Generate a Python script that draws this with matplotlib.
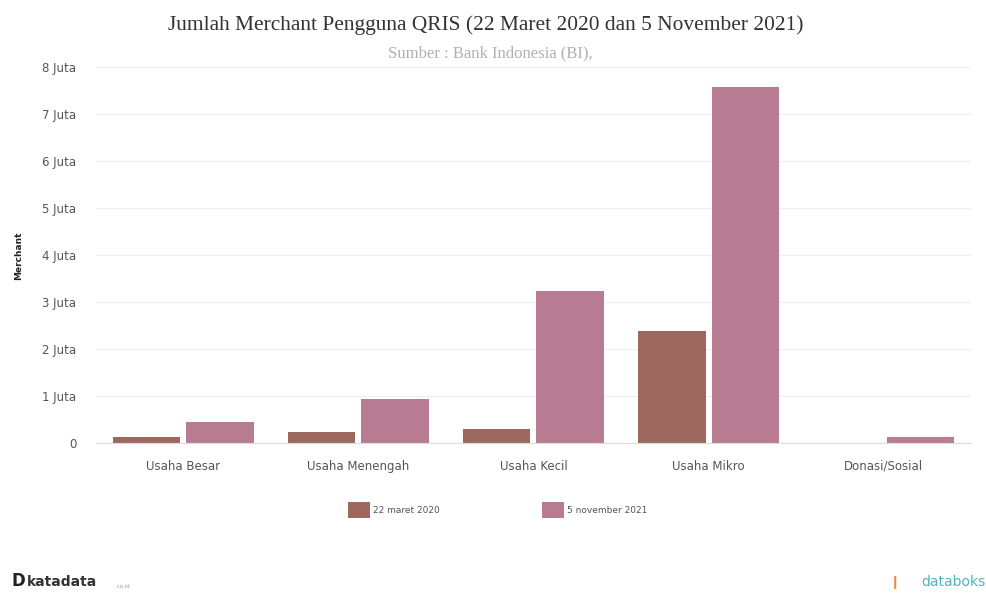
import matplotlib.pyplot as plt
import numpy as np

# Data (juta merchant)
kategori = ["Usaha Besar", "Usaha Menengah", "Usaha Kecil", "Usaha Mikro", "Donasi/Sosial"]
maret_2020 = [0.13, 0.23, 0.30, 2.38, 0.0]
november_2021 = [0.45, 0.94, 3.23, 7.58, 0.13]
label_seri = ["22 maret 2020", "5 november 2021"]
yticks = [0, 1, 2, 3, 4, 5, 6, 7, 8]
ytick_label = ["0"] + [f"{v} Juta" for v in yticks[1:]]

warna_2020 = "#9d695f"
warna_2021 = "#b77b92"

fig = plt.figure(figsize=(9.86, 5.95), dpi=100)
ax = fig.add_axes([0.097, 0.255, 0.888, 0.632])

x = np.arange(len(kategori))
lebar = 0.385
ax.bar(x - lebar / 2 - 0.017, maret_2020, lebar, color=warna_2020, label=label_seri[0])
ax.bar(x + lebar / 2 + 0.017, november_2021, lebar, color=warna_2021, label=label_seri[1])

ax.set_xlim(-0.5, len(kategori) - 0.5)
ax.set_ylim(0, 8)
ax.set_yticks(yticks)
ax.set_yticklabels(ytick_label)
ax.set_xticks(x)
ax.set_xticklabels(kategori)
ax.tick_params(axis="both", length=0, labelsize=8.5, colors="#555555")
ax.tick_params(axis="x", pad=12)
ax.tick_params(axis="y", pad=14)

ax.grid(axis="y", color="#eeeeee", linewidth=0.8)
ax.set_axisbelow(True)
for s in ["top", "right", "left"]:
    ax.spines[s].set_visible(False)
ax.spines["bottom"].set_color("#dddddd")

ax.set_ylabel("Merchant", fontsize=6.5, fontweight="bold", color="#222222", labelpad=14)

# Judul
fig.text(0.493, 0.958, "Jumlah Merchant Pengguna QRIS (22 Maret 2020 dan 5 November 2021)",
         ha="center", va="center", family="Liberation Serif", fontsize=15.4, color="#333333")
fig.text(0.497, 0.911, "Sumber : Bank Indonesia (BI),", ha="center", va="center",
         family="Liberation Serif", fontsize=12, color="#b0b0b0")

# Legenda
leg = ax.legend(loc="upper center", bbox_to_anchor=(0.459, -0.135), ncol=2, frameon=False,
                fontsize=6.5, handlelength=2.4, handleheight=2.4, columnspacing=11.4,
                handletextpad=0.3)
for t in leg.get_texts():
    t.set_color("#555555")

# Logo teks
fig.text(0.012, 0.008, "D", ha="left", va="bottom", fontsize=12, fontweight="bold", color="#222222")
fig.text(0.027, 0.01, "katadata", ha="left", va="bottom", fontsize=10, fontweight="bold", color="#333333")
fig.text(0.117, 0.01, ".co.id", ha="left", va="bottom", fontsize=4, color="#999999")
fig.text(0.902, 0.01, "\u2759", ha="left", va="bottom", fontsize=9, color="#f08a3c")
fig.text(0.999, 0.01, "databoks", ha="right", va="bottom", fontsize=10, color="#4fb3bf")

fig.savefig("out.png", dpi=100)
